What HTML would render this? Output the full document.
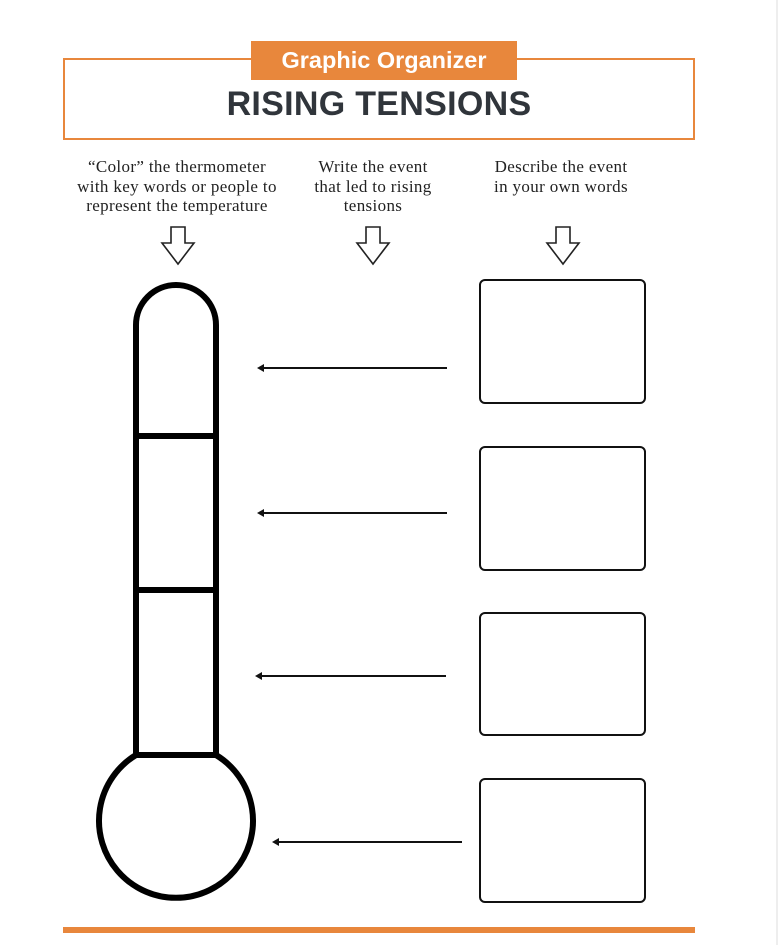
<!DOCTYPE html>
<html><head><style>
body{margin:0;width:780px;height:945px;background:#fff;position:relative;overflow:hidden;font-family:"Liberation Serif",serif;}
.t{position:absolute;text-align:center;font-size:17px;letter-spacing:0.35px;line-height:19.5px;color:#222;white-space:nowrap;}
</style></head><body>
<div style="position:absolute;left:63px;top:58px;width:628px;height:78px;border:2px solid #E8873C;"></div>
<div style="position:absolute;left:251px;top:41px;width:266px;height:39px;background:#E8873C;color:#fff;font:bold 23.5px 'Liberation Sans',sans-serif;text-align:center;line-height:38px;">Graphic Organizer</div>
<div style="position:absolute;left:63px;top:85px;width:632px;text-align:center;font:bold 34px 'Liberation Sans',sans-serif;color:#30353b;letter-spacing:0.3px;">RISING TENSIONS</div>
<div class="t" style="left:56px;top:157px;width:242px;">“Color” the thermometer<br>with key words or people to<br>represent the temperature</div>
<div class="t" style="left:293px;top:157px;width:160px;">Write the event<br>that led to rising<br>tensions</div>
<div class="t" style="left:471px;top:157px;width:180px;">Describe the event<br>in your own words</div>
<div style="position:absolute;left:776px;top:0;width:2px;height:945px;background:#eee;"></div>
<svg width="780" height="945" style="position:absolute;left:0;top:0">
<g fill="none" stroke="#222" stroke-width="1.6" stroke-linejoin="miter">
<path d="M171 227h14v16h9l-16 21l-16-21h9z"/>
<path d="M366 227h14v16h9l-16 21l-16-21h9z"/>
<path d="M556 227h14v16h9l-16 21l-16-21h9z"/>
</g>
<g fill="none" stroke="#000" stroke-width="6">
<path d="M136 755V325a40 40 0 0 1 80 0V755"/>
<line x1="136" y1="436" x2="216" y2="436"/>
<line x1="136" y1="590" x2="216" y2="590"/>
<line x1="133" y1="755" x2="219" y2="755"/>
<path d="M136 755A77 77 0 1 0 216 755"/>
</g>
<g fill="none" stroke="#111" stroke-width="2">
<rect x="480" y="280" width="165" height="123" rx="5"/>
<rect x="480" y="447" width="165" height="123" rx="5"/>
<rect x="480" y="613" width="165" height="122" rx="5"/>
<rect x="480" y="779" width="165" height="123" rx="5"/>
<line x1="262" y1="368" x2="447" y2="368"/>
<line x1="262" y1="513" x2="447" y2="513"/>
<line x1="260" y1="676" x2="446" y2="676"/>
<line x1="277" y1="842" x2="462" y2="842"/>
</g>
<g fill="#111">
<path d="M257 368l7-4v8z"/><path d="M257 513l7-4v8z"/><path d="M255 676l7-4v8z"/><path d="M272 842l7-4v8z"/>
</g>
<rect x="63" y="927" width="632" height="6" fill="#E8873C"/>
</svg>
</body></html>
